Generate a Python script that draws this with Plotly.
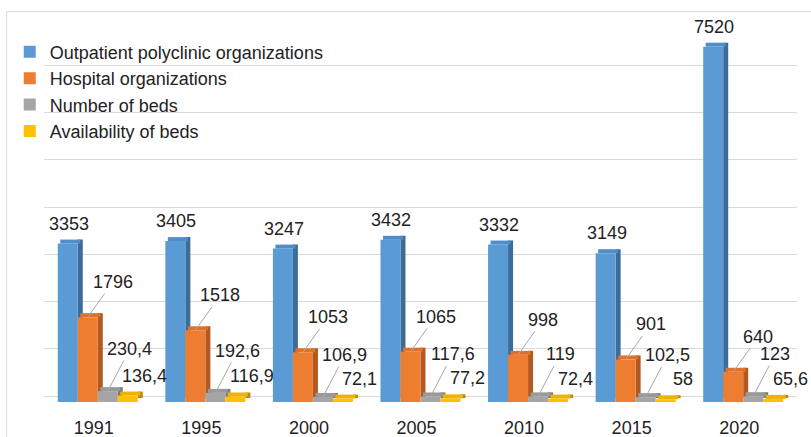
import plotly.graph_objects as go

years = ["1991", "1995", "2000", "2005", "2010", "2015", "2020"]
outpatient = [3353, 3405, 3247, 3432, 3332, 3149, 7520]
hospital = [1796, 1518, 1053, 1065, 998, 901, 640]
beds = [230.4, 192.6, 106.9, 117.6, 119, 102.5, 123]
availability = [136.4, 116.9, 72.1, 77.2, 72.4, 58, 65.6]

series_names = ["Outpatient polyclinic organizations", "Hospital organizations",
                "Number of beds", "Availability of beds"]
series_values = [outpatient, hospital, beds, availability]
front_colors = ["#5B9BD5", "#ED7D31", "#A5A5A5", "#FFC000"]
top_colors = ["#4F8DCB", "#E0712A", "#999999", "#EDB300"]
side_colors = ["#3D6C9B", "#B1591F", "#7B7B7B", "#B98C00"]

FONT = "Liberation Sans, Arial, sans-serif"
TXT = "#222222"
FS = 18

W, H = 811, 437
ML, MR, MT, MB = 44, 14, 24, 35
YMAX = 8000
n_cat = len(years)
px_per_cat = (W - ML - MR) / n_cat
px_per_unit = (H - MT - MB) / YMAX

bw = 0.186                      # bar width in category units
depth_x = 5 / px_per_cat        # 3D depth (horizontal), category units
depth_y = 4 / px_per_unit       # 3D depth (vertical), value units
wall_shift = 6 / px_per_unit    # back-wall gridlines sit slightly higher

xs = list(range(n_cat))

def fmt(v):
    return ("%g" % v).replace(".", ",")

fig = go.Figure()
for si, (name, vals) in enumerate(zip(series_names, series_values)):
    left = (si - 2) * bw
    # side face
    fig.add_trace(go.Bar(x=xs, y=vals, base=depth_y, offset=left + bw, width=depth_x,
                         marker=dict(color=side_colors[si], line=dict(width=0)),
                         showlegend=False, hoverinfo="skip"))
    # top face
    fig.add_trace(go.Bar(x=xs, y=[depth_y] * n_cat, base=vals, offset=left + depth_x / 2,
                         width=bw, marker=dict(color=top_colors[si], line=dict(width=0)),
                         showlegend=False, hoverinfo="skip"))
    # front face
    fig.add_trace(go.Bar(x=xs, y=vals, offset=left, width=bw, name=name,
                         marker=dict(color=front_colors[si], line=dict(width=0))))

# invisible trace carrying the back-wall grid axis
fig.add_trace(go.Scatter(x=[None], y=[None], yaxis="y2", showlegend=False,
                         hoverinfo="skip", mode="markers"))

# label offsets per series (pixels): (dx, dy up, leader line?)
label_style = [(1, 20, False), (25, 35, True), (22, 42, True), (17, 20, False)]

annotations = []
for si, vals in enumerate(series_values):
    dx, dy, leader = label_style[si]
    for ci, v in enumerate(vals):
        xc = ci + (si - 1.5) * bw
        if leader:
            annotations.append(dict(x=xc, y=v, xref="x", yref="y", text=fmt(v),
                                    showarrow=True, arrowhead=0, arrowwidth=1,
                                    arrowcolor="#A6A6A6", ax=dx, ay=-dy,
                                    standoff=0, startstandoff=0,
                                    font=dict(family=FONT, size=FS, color=TXT)))
        else:
            annotations.append(dict(x=xc, y=v, xref="x", yref="y", text=fmt(v),
                                    showarrow=False, xshift=dx, yshift=dy,
                                    font=dict(family=FONT, size=FS, color=TXT)))

fig.update_layout(
    width=W, height=H,
    margin=dict(l=ML, r=MR, t=MT, b=MB, autoexpand=False),
    paper_bgcolor="white", plot_bgcolor="white",
    barmode="overlay",
    font=dict(family=FONT, size=FS, color=TXT),
    showlegend=True,
    legend=dict(x=-0.0455, y=0.9746, xanchor="left", yanchor="top",
                bgcolor="rgba(0,0,0,0)", font=dict(family=FONT, size=FS, color=TXT),
                traceorder="normal"),
    xaxis=dict(range=[-0.5, n_cat - 0.5], tickvals=xs, ticktext=years,
               showgrid=False, zeroline=False, showline=False, automargin=False,
               ticks="", tickfont=dict(family=FONT, size=FS, color=TXT),
               ticklabelstandoff=13, ticklabelshift=-4),
    yaxis=dict(range=[0, YMAX], showgrid=False, zeroline=False, showline=False,
               showticklabels=False, ticks="", automargin=False),
    yaxis2=dict(range=[-wall_shift, YMAX - wall_shift], dtick=1000, tick0=0,
                overlaying="y", side="left", showgrid=True, gridcolor="#D9D9D9",
                gridwidth=1, zeroline=False, showline=False, showticklabels=False,
                ticks="", automargin=False, layer="below traces"),
    annotations=annotations,
    shapes=[dict(type="rect", xref="paper", yref="paper", x0=-0.0495, x1=1.05,
                 y0=-0.2, y1=1.0328, line=dict(color="#D9D9D9", width=1),
                 fillcolor="rgba(0,0,0,0)", layer="below")],
)

fig.write_html("out.html", config={"displayModeBar": False},
               post_script="document.body.style.margin='0';document.body.style.overflow='hidden';")
